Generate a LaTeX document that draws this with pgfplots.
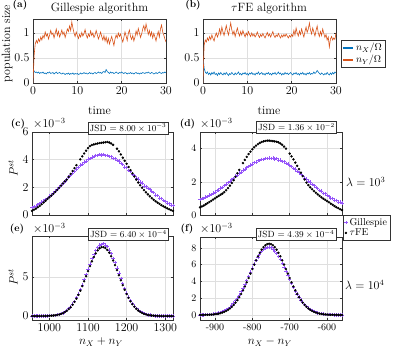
\documentclass[border=0pt]{standalone}
\usepackage{pgfplots}
\pgfplotsset{compat=1.18}
\definecolor{mblue}{rgb}{0,0.447,0.741}
\definecolor{morange}{rgb}{0.85,0.325,0.098}
\definecolor{gpurple}{RGB}{150,85,250}
\newcommand{\fsL}{\fontsize{12}{12}\selectfont}
\newcommand{\fsM}{\fontsize{10}{10}\selectfont}
\newcommand{\fsS}{\fontsize{9}{9}\selectfont}
\pgfplotsset{
  panel/.style={scale only axis, anchor=south west, enlargelimits=false,
    axis line style={black!80, line width=0.5pt},
    tick style={black!80, line width=0.5pt}, major tick length=2pt,
    tick align=inside, grid=major, grid style={gray!25, line width=0.4pt},
    tick label style={font=\fsL},
    /pgf/number format/1000 sep={}},
  ts/.style={panel, width=133pt, height=64pt, xmin=0, xmax=30, ymin=0, ymax=1.28,
    xtick={0,10,20,30}, ytick={0,0.5,1}},
  gil/.style={only marks, mark=+, mark size=1.7pt, gpurple, mark options={line width=0.6pt}},
  tfe/.style={only marks, mark=*, mark size=1.0pt, black},
  lineleg/.style={legend image code/.code={%
    \pgfsetstrokecolor{#1}\pgfsetlinewidth{1.8pt}%
    \pgfpathmoveto{\pgfpoint{0pt}{0pt}}\pgfpathlineto{\pgfpoint{10pt}{0pt}}%
    \pgfusepath{stroke}}},
}
\begin{document}
\begin{tikzpicture}
\useasboundingbox (0,0) rectangle (394pt,351pt);

% (a) Gillespie time series
\begin{axis}[ts, at={(33pt,268pt)}]
\addplot[draw=mblue, line width=0.6pt] coordinates {(0,0)(0.1,0.27)(0.25,0.24)(0.5,0.21)(0.75,0.22)(1,0.20)(1.25,0.22)(1.5,0.19)(1.75,0.21)(2,0.20)(2.25,0.22)(2.5,0.19)(2.75,0.20)(3,0.18)(3.25,0.21)(3.5,0.20)(3.75,0.22)(4,0.19)(4.25,0.20)(4.5,0.21)(4.75,0.18)(5,0.20)(5.25,0.22)(5.5,0.19)(5.75,0.20)(6,0.21)(6.25,0.19)(6.5,0.18)(6.75,0.20)(7,0.19)(7.25,0.17)(7.5,0.19)(7.75,0.18)(8,0.20)(8.25,0.17)(8.5,0.19)(8.75,0.18)(9,0.20)(9.25,0.17)(9.5,0.19)(9.75,0.18)(10,0.19)(10.25,0.17)(10.5,0.18)(10.75,0.20)(11,0.18)(11.25,0.19)(11.5,0.21)(11.75,0.19)(12,0.20)(12.25,0.18)(12.5,0.19)(12.75,0.21)(13,0.19)(13.25,0.20)(13.5,0.18)(13.75,0.20)(14,0.21)(14.25,0.19)(14.5,0.20)(14.75,0.22)(15,0.20)(15.25,0.21)(15.5,0.19)(15.75,0.22)(16,0.23)(16.25,0.21)(16.5,0.27)(16.75,0.23)(17,0.21)(17.25,0.19)(17.5,0.22)(17.75,0.20)(18,0.21)(18.25,0.19)(18.5,0.20)(18.75,0.22)(19,0.20)(19.25,0.19)(19.5,0.21)(19.75,0.20)(20,0.22)(20.25,0.20)(20.5,0.19)(20.75,0.21)(21,0.20)(21.25,0.18)(21.5,0.20)(21.75,0.19)(22,0.21)(22.25,0.19)(22.5,0.20)(22.75,0.18)(23,0.20)(23.25,0.21)(23.5,0.19)(23.75,0.20)(24,0.18)(24.25,0.20)(24.5,0.19)(24.75,0.21)(25,0.20)(25.25,0.19)(25.5,0.21)(25.75,0.20)(26,0.22)(26.25,0.20)(26.5,0.19)(26.75,0.21)(27,0.20)(27.25,0.18)(27.5,0.19)(27.75,0.21)(28,0.19)(28.25,0.20)(28.5,0.22)(28.75,0.20)(29,0.19)(29.25,0.21)(29.5,0.20)(29.75,0.22)(30,0.20)};
\addplot[draw=morange, line width=0.6pt] coordinates {(0,0)(0.25,0.55)(0.5,0.78)(0.75,0.85)(1,0.80)(1.25,0.88)(1.5,0.83)(1.75,0.92)(2,0.86)(2.25,0.95)(2.5,0.90)(2.75,1.02)(3,0.94)(3.25,0.98)(3.5,0.88)(3.75,0.96)(4,1.05)(4.25,0.97)(4.5,1.00)(4.75,0.90)(5,0.99)(5.25,1.08)(5.5,0.95)(5.75,1.03)(6,0.92)(6.25,0.98)(6.5,1.06)(6.75,0.97)(7,1.02)(7.25,0.91)(7.5,0.99)(7.75,1.08)(8,1.03)(8.25,1.14)(8.5,1.05)(8.75,1.22)(9,1.10)(9.25,1.00)(9.5,0.93)(9.75,1.02)(10,0.95)(10.25,0.89)(10.5,0.97)(10.75,0.92)(11,1.01)(11.25,0.94)(11.5,0.99)(11.75,1.07)(12,0.96)(12.25,0.90)(12.5,0.98)(12.75,0.93)(13,1.04)(13.25,0.95)(13.5,1.00)(13.75,0.91)(14,0.96)(14.25,1.05)(14.5,0.97)(14.75,0.88)(15,0.94)(15.25,1.02)(15.5,0.93)(15.75,0.86)(16,0.95)(16.25,0.84)(16.5,0.92)(16.75,0.80)(17,0.89)(17.25,0.78)(17.5,0.86)(17.75,0.93)(18,0.84)(18.25,0.75)(18.5,0.88)(18.75,0.96)(19,0.90)(19.25,1.00)(19.5,0.93)(19.75,0.98)(20,0.89)(20.25,0.82)(20.5,0.91)(20.75,1.02)(21,0.94)(21.25,0.85)(21.5,0.99)(21.75,1.06)(22,0.93)(22.25,0.87)(22.5,0.95)(22.75,0.84)(23,0.92)(23.25,1.04)(23.5,0.96)(23.75,1.09)(24,1.00)(24.25,0.91)(24.5,0.98)(24.75,1.08)(25,1.15)(25.25,1.04)(25.5,1.18)(25.75,1.08)(26,0.97)(26.25,1.05)(26.5,0.94)(26.75,1.02)(27,0.90)(27.25,0.99)(27.5,0.92)(27.75,0.84)(28,0.95)(28.25,1.03)(28.5,0.92)(28.75,1.08)(29,1.16)(29.25,1.02)(29.5,0.96)(29.75,0.88)(30,0.82)};
\end{axis}

% (b) tauFE time series
\begin{axis}[ts, at={(203pt,268pt)},
  legend style={at={(1.038,0.672)}, anchor=north west, draw=black!80, font=\fsM,
    inner sep=1pt, row sep=-1pt},
  legend cell align=left]
\addplot[draw=mblue, line width=0.6pt, lineleg=mblue] coordinates {(0,0)(0.1,0.45)(0.25,0.30)(0.5,0.22)(0.75,0.19)(1,0.22)(1.25,0.17)(1.5,0.20)(1.75,0.16)(2,0.21)(2.25,0.18)(2.5,0.22)(2.75,0.17)(3,0.19)(3.25,0.15)(3.5,0.20)(3.75,0.17)(4,0.21)(4.25,0.18)(4.5,0.16)(4.75,0.20)(5,0.17)(5.25,0.21)(5.5,0.18)(5.75,0.15)(6,0.19)(6.25,0.17)(6.5,0.21)(6.75,0.18)(7,0.16)(7.25,0.20)(7.5,0.17)(7.75,0.19)(8,0.22)(8.25,0.17)(8.5,0.19)(8.75,0.16)(9,0.20)(9.25,0.18)(9.5,0.21)(9.75,0.17)(10,0.19)(10.25,0.16)(10.5,0.20)(10.75,0.18)(11,0.21)(11.25,0.17)(11.5,0.19)(11.75,0.16)(12,0.20)(12.25,0.18)(12.5,0.22)(12.75,0.17)(13,0.19)(13.25,0.21)(13.5,0.17)(13.75,0.19)(14,0.16)(14.25,0.20)(14.5,0.18)(14.75,0.21)(15,0.17)(15.25,0.19)(15.5,0.16)(15.75,0.20)(16,0.18)(16.25,0.21)(16.5,0.17)(16.75,0.19)(17,0.22)(17.25,0.18)(17.5,0.20)(17.75,0.16)(18,0.19)(18.25,0.17)(18.5,0.21)(18.75,0.18)(19,0.20)(19.25,0.17)(19.5,0.19)(19.75,0.21)(20,0.18)(20.25,0.16)(20.5,0.20)(20.75,0.18)(21,0.21)(21.25,0.17)(21.5,0.19)(21.75,0.16)(22,0.20)(22.25,0.18)(22.5,0.21)(22.75,0.17)(23,0.19)(23.25,0.16)(23.5,0.20)(23.75,0.18)(24,0.21)(24.25,0.17)(24.5,0.19)(24.75,0.18)(25,0.22)(25.25,0.19)(25.5,0.21)(25.75,0.25)(26,0.22)(26.25,0.19)(26.5,0.17)(26.75,0.20)(27,0.18)(27.25,0.16)(27.5,0.19)(27.75,0.17)(28,0.21)(28.25,0.18)(28.5,0.16)(28.75,0.20)(29,0.17)(29.25,0.21)(29.5,0.18)(29.75,0.22)(30,0.20)};
\addlegendentry{$n_X/\Omega$}
\addplot[draw=morange, line width=0.6pt, lineleg=morange] coordinates {(0,0)(0.25,0.75)(0.5,0.86)(0.75,0.82)(1,0.90)(1.25,0.85)(1.5,0.93)(1.75,0.87)(2,0.96)(2.25,0.89)(2.5,0.84)(2.75,0.94)(3,1.00)(3.25,0.92)(3.5,0.98)(3.75,1.08)(4,0.97)(4.25,1.12)(4.5,1.02)(4.75,0.95)(5,1.05)(5.25,1.15)(5.5,1.04)(5.75,0.96)(6,1.08)(6.25,1.20)(6.5,1.06)(6.75,0.97)(7,1.04)(7.25,0.93)(7.5,1.02)(7.75,1.10)(8,1.00)(8.25,0.94)(8.5,1.03)(8.75,0.96)(9,1.05)(9.25,0.98)(9.5,0.92)(9.75,1.00)(10,0.95)(10.25,1.03)(10.5,0.97)(10.75,0.93)(11,1.00)(11.25,0.94)(11.5,0.98)(11.75,0.92)(12,0.96)(12.25,1.02)(12.5,0.95)(12.75,0.91)(13,0.97)(13.25,0.93)(13.5,0.99)(13.75,0.94)(14,0.90)(14.25,0.96)(14.5,1.01)(14.75,0.94)(15,0.98)(15.25,0.92)(15.5,0.97)(15.75,1.03)(16,0.95)(16.25,0.91)(16.5,0.96)(16.75,0.93)(17,0.99)(17.25,0.94)(17.5,0.90)(17.75,0.96)(18,0.92)(18.25,0.97)(18.5,0.93)(18.75,0.98)(19,0.94)(19.25,0.90)(19.5,0.95)(19.75,0.92)(20,0.97)(20.25,0.93)(20.5,1.05)(20.75,0.96)(21,1.10)(21.25,1.00)(21.5,0.94)(21.75,1.04)(22,0.97)(22.25,1.08)(22.5,0.99)(22.75,0.92)(23,1.03)(23.25,1.12)(23.5,1.01)(23.75,1.08)(24,1.20)(24.25,1.06)(24.5,0.98)(24.75,1.10)(25,1.02)(25.25,0.94)(25.5,1.05)(25.75,1.14)(26,1.00)(26.25,0.93)(26.5,1.03)(26.75,0.95)(27,1.08)(27.25,0.99)(27.5,0.91)(27.75,0.97)(28,0.86)(28.25,0.92)(28.5,0.72)(28.75,0.88)(29,0.93)(29.25,0.86)(29.5,0.90)(29.75,0.87)(30,1.00)};
\addlegendentry{$n_Y/\Omega$}
\end{axis}

% (c) lambda = 10^3, n_X + n_Y
\begin{axis}[panel, at={(32pt,136pt)}, width=141pt, height=83pt,
  xmin=955, xmax=1320, ymin=0, ymax=6, xtick={1000,1100,1200,1300}, xticklabels={},
  ytick={0,2,4,6}]
\addplot[gil] coordinates {(955,0.54)(960,0.61)(965,0.66)(970,0.76)(975,0.82)(980,0.94)(985,1.01)(990,1.13)(995,1.21)(1000,1.36)(1005,1.44)(1010,1.60)(1015,1.70)(1020,1.87)(1025,1.97)(1030,2.15)(1035,2.26)(1040,2.44)(1045,2.56)(1050,2.75)(1055,2.86)(1060,3.05)(1065,3.15)(1070,3.33)(1075,3.43)(1080,3.60)(1085,3.68)(1090,3.84)(1095,3.90)(1100,4.04)(1105,4.08)(1110,4.20)(1115,4.22)(1120,4.31)(1125,4.28)(1130,4.37)(1135,4.33)(1140,4.38)(1145,4.30)(1150,4.32)(1155,4.23)(1160,4.22)(1165,4.10)(1170,4.08)(1175,3.93)(1180,3.89)(1185,3.72)(1190,3.67)(1195,3.48)(1200,3.42)(1205,3.23)(1210,3.15)(1215,2.95)(1220,2.87)(1225,2.67)(1230,2.59)(1235,2.38)(1240,2.31)(1245,2.11)(1250,2.08)(1255,1.93)(1260,1.85)(1265,1.68)(1270,1.61)(1275,1.45)(1280,1.39)(1285,1.23)(1290,1.18)(1295,1.03)(1300,0.99)(1305,0.87)(1310,0.83)(1315,0.72)(1320,0.69)};
\addplot[tfe] coordinates {(955,0.30)(960,0.38)(965,0.46)(970,0.56)(975,0.66)(980,0.78)(985,0.90)(990,1.03)(995,1.16)(1000,1.28)(1005,1.40)(1010,1.53)(1015,1.67)(1020,1.81)(1025,1.96)(1030,2.12)(1035,2.28)(1040,2.43)(1045,2.56)(1050,2.76)(1055,2.97)(1060,3.18)(1065,3.39)(1070,3.60)(1080,4.02)(1085,4.24)(1090,4.45)(1095,4.65)(1100,4.84)(1105,4.98)(1110,5.06)(1115,5.10)(1120,5.14)(1125,5.17)(1130,5.20)(1135,5.22)(1140,5.24)(1145,5.26)(1150,5.28)(1155,5.24)(1160,5.17)(1165,5.07)(1175,4.79)(1180,4.60)(1185,4.38)(1190,4.14)(1195,3.92)(1200,3.70)(1205,3.47)(1210,3.24)(1215,3.01)(1220,2.78)(1225,2.56)(1230,2.35)(1235,2.15)(1240,1.97)(1245,1.80)(1250,1.64)(1255,1.49)(1260,1.35)(1265,1.22)(1270,1.10)(1275,0.99)(1280,0.89)(1285,0.80)(1290,0.71)(1295,0.63)(1300,0.56)(1305,0.48)(1310,0.41)(1315,0.35)(1320,0.30)};
\end{axis}

% (d) lambda = 10^3, n_X - n_Y
\begin{axis}[panel, at={(200pt,136pt)}, width=142pt, height=83pt,
  tick label style={font=\fsM},
  xmin=-940, xmax=-560, ymin=0, ymax=5, xtick={-900,-800,-700,-600}, xticklabels={},
  ytick={0,2,4},
  legend style={at={(1.007,0)}, anchor=north west, draw=black!80, font=\fsM,
    inner sep=1pt, row sep=-2pt},
  legend cell align=left]
\addplot[gil] coordinates {(-940,0.93)(-935,0.99)(-930,1.00)(-925,1.09)(-920,1.11)(-915,1.21)(-910,1.23)(-905,1.33)(-900,1.36)(-895,1.47)(-890,1.51)(-885,1.63)(-880,1.67)(-875,1.79)(-870,1.84)(-865,1.97)(-860,2.02)(-855,2.15)(-850,2.20)(-845,2.34)(-840,2.39)(-835,2.52)(-830,2.57)(-825,2.70)(-820,2.74)(-815,2.87)(-810,2.91)(-805,3.02)(-800,3.05)(-795,3.16)(-790,3.18)(-785,3.27)(-780,3.28)(-775,3.36)(-770,3.35)(-765,3.41)(-760,3.39)(-755,3.44)(-750,3.40)(-745,3.43)(-740,3.38)(-735,3.39)(-730,3.32)(-725,3.32)(-720,3.23)(-715,3.21)(-710,3.11)(-705,3.08)(-700,2.97)(-695,2.93)(-690,2.81)(-685,2.76)(-680,2.63)(-675,2.57)(-670,2.44)(-665,2.38)(-660,2.24)(-655,2.18)(-650,2.04)(-645,1.98)(-640,1.85)(-635,1.79)(-630,1.66)(-625,1.61)(-620,1.48)(-615,1.44)(-610,1.31)(-605,1.28)(-600,1.16)(-595,1.13)(-590,1.02)(-585,1.00)(-580,0.90)(-575,0.89)(-570,0.79)(-565,0.79)(-560,0.72)};
\addlegendentry{Gillespie}
\addplot[tfe] coordinates {(-940,0.46)(-935,0.51)(-930,0.57)(-925,0.64)(-920,0.71)(-915,0.78)(-910,0.85)(-905,0.93)(-900,1.00)(-895,1.08)(-890,1.15)(-885,1.22)(-880,1.29)(-875,1.38)(-870,1.49)(-865,1.62)(-860,1.77)(-855,1.93)(-850,2.10)(-845,2.30)(-840,2.51)(-835,2.72)(-825,3.13)(-820,3.32)(-815,3.50)(-810,3.67)(-805,3.82)(-800,3.96)(-795,4.08)(-790,4.18)(-785,4.27)(-780,4.34)(-775,4.40)(-770,4.44)(-765,4.46)(-760,4.48)(-755,4.48)(-750,4.47)(-745,4.45)(-740,4.43)(-735,4.41)(-730,4.38)(-725,4.31)(-720,4.23)(-715,4.12)(-710,4.00)(-700,3.70)(-695,3.53)(-690,3.35)(-685,3.16)(-680,2.96)(-675,2.76)(-670,2.55)(-665,2.34)(-660,2.14)(-655,1.95)(-650,1.80)(-645,1.67)(-640,1.55)(-635,1.44)(-630,1.34)(-625,1.24)(-620,1.15)(-615,1.06)(-610,0.98)(-605,0.91)(-600,0.84)(-595,0.77)(-590,0.68)(-585,0.61)(-580,0.54)(-575,0.47)(-570,0.41)(-565,0.35)(-560,0.30)};
\addlegendentry{$\tau$FE}
\end{axis}

% (e) lambda = 10^4, n_X + n_Y
\begin{axis}[panel, at={(32pt,31pt)}, width=141pt, height=84pt,
  xmin=955, xmax=1320, ymin=-0.5, ymax=10.2, xtick={1000,1100,1200,1300},
  ytick={0,5}]
\addplot[gil] coordinates {(955,0.02)(960,0)(965,0.01)(970,0.02)(975,0.01)(980,0.02)(985,0.01)(990,0.03)(995,0.02)(1000,0.05)(1005,0.04)(1010,0.09)(1015,0.09)(1020,0.17)(1025,0.19)(1030,0.31)(1035,0.37)(1040,0.56)(1045,0.68)(1050,0.95)(1055,1.16)(1060,1.53)(1065,1.86)(1070,2.34)(1075,2.79)(1080,3.41)(1085,3.96)(1090,4.66)(1095,5.28)(1100,6.02)(1105,6.62)(1110,7.30)(1115,7.83)(1120,8.38)(1125,8.71)(1130,9.05)(1135,9.14)(1140,9.21)(1145,9.03)(1150,8.84)(1155,8.40)(1160,8.00)(1165,7.37)(1170,6.82)(1175,6.10)(1180,5.47)(1185,4.75)(1190,4.14)(1195,3.48)(1200,2.95)(1205,2.41)(1210,1.98)(1215,1.57)(1220,1.26)(1225,0.96)(1230,0.76)(1235,0.55)(1240,0.43)(1245,0.30)(1250,0.23)(1255,0.16)(1260,0.12)(1265,0.08)(1270,0.06)(1275,0.03)(1280,0.03)(1285,0.01)(1290,0.02)(1295,0)(1300,0.01)(1305,0)(1310,0.01)(1315,0)(1320,0)};
\addplot[tfe] coordinates {(955,0)(960,0)(965,0)(970,0)(975,0)(980,0.01)(985,0.01)(990,0.01)(995,0.02)(1000,0.03)(1005,0.05)(1010,0.07)(1015,0.10)(1020,0.14)(1025,0.20)(1030,0.27)(1035,0.37)(1040,0.51)(1045,0.67)(1050,0.88)(1055,1.13)(1060,1.44)(1065,1.80)(1070,2.22)(1075,2.70)(1080,3.23)(1085,3.82)(1090,4.43)(1095,5.08)(1100,5.73)(1105,6.36)(1110,6.97)(1115,7.52)(1120,7.99)(1125,8.37)(1130,8.63)(1135,8.78)(1140,8.79)(1145,8.67)(1150,8.43)(1155,8.07)(1160,7.62)(1165,7.08)(1170,6.49)(1175,5.86)(1180,5.21)(1185,4.56)(1190,3.94)(1195,3.35)(1200,2.80)(1205,2.32)(1210,1.88)(1215,1.51)(1220,1.19)(1225,0.93)(1230,0.71)(1235,0.54)(1240,0.40)(1245,0.29)(1250,0.21)(1255,0.15)(1260,0.11)(1265,0.07)(1270,0.05)(1275,0.03)(1280,0.02)(1285,0.01)(1290,0.01)(1295,0)(1300,0)(1305,0)(1310,0)(1315,0)(1320,0)};
\end{axis}

% (f) lambda = 10^4, n_X - n_Y
\begin{axis}[panel, at={(200pt,31pt)}, width=142pt, height=83pt,
  tick label style={font=\fsM},
  xmin=-940, xmax=-560, ymin=-0.6, ymax=9.3, xtick={-900,-800,-700,-600},
  xticklabels={-900,-800,-700,-600}, ytick={0,2,4,6,8}]
\addplot[gil] coordinates {(-940,0.01)(-935,0.02)(-930,0.02)(-925,0.03)(-920,0.04)(-915,0.05)(-910,0.07)(-905,0.10)(-900,0.14)(-895,0.18)(-890,0.24)(-885,0.31)(-880,0.40)(-875,0.50)(-870,0.63)(-865,0.79)(-860,0.97)(-855,1.18)(-850,1.43)(-845,1.72)(-840,2.04)(-835,2.40)(-830,2.79)(-825,3.21)(-820,3.66)(-815,4.13)(-810,4.62)(-805,5.11)(-800,5.60)(-795,6.07)(-790,6.51)(-785,6.92)(-780,7.29)(-775,7.59)(-770,7.83)(-765,7.99)(-760,8.08)(-755,8.09)(-750,8.02)(-745,7.87)(-740,7.65)(-735,7.35)(-730,7.00)(-725,6.60)(-720,6.16)(-715,5.69)(-710,5.21)(-705,4.71)(-700,4.23)(-695,3.75)(-690,3.29)(-685,2.87)(-680,2.48)(-675,2.12)(-670,1.78)(-665,1.49)(-660,1.23)(-655,1.01)(-650,0.82)(-645,0.66)(-640,0.53)(-635,0.42)(-630,0.33)(-625,0.25)(-620,0.19)(-615,0.15)(-610,0.11)(-605,0.08)(-600,0.06)(-595,0.04)(-590,0.03)(-585,0.03)(-580,0.02)(-575,0.01)(-570,0.01)(-565,0.01)(-560,0.01)};
\addplot[tfe] coordinates {(-940,0)(-935,0.01)(-930,0.01)(-925,0.02)(-920,0.02)(-915,0.03)(-910,0.05)(-905,0.06)(-900,0.09)(-895,0.12)(-890,0.16)(-885,0.22)(-880,0.29)(-875,0.37)(-870,0.48)(-865,0.62)(-860,0.78)(-855,0.97)(-850,1.20)(-845,1.47)(-840,1.77)(-835,2.12)(-830,2.51)(-825,2.94)(-820,3.40)(-815,3.89)(-810,4.41)(-805,4.94)(-800,5.48)(-795,6.01)(-790,6.51)(-785,6.99)(-780,7.42)(-775,7.79)(-770,8.10)(-765,8.32)(-760,8.45)(-755,8.50)(-750,8.45)(-745,8.32)(-740,8.10)(-735,7.79)(-730,7.42)(-725,6.99)(-720,6.51)(-715,6.01)(-710,5.48)(-705,4.94)(-700,4.41)(-695,3.89)(-690,3.40)(-685,2.94)(-680,2.51)(-675,2.12)(-670,1.77)(-665,1.47)(-660,1.20)(-655,0.97)(-650,0.78)(-645,0.62)(-640,0.48)(-635,0.37)(-630,0.29)(-625,0.22)(-620,0.16)(-615,0.12)(-610,0.09)(-605,0.06)(-600,0.05)(-595,0.03)(-590,0.02)(-585,0.02)(-580,0.01)(-575,0.01)(-570,0)(-565,0)(-560,0)};
\end{axis}

% texts
\node[font=\fsM\bfseries] at (20pt,346pt) {(a)};
\node[font=\fsM\bfseries] at (193pt,346pt) {(b)};
\node[font=\fsL, anchor=base] at (99.5pt,339pt) {Gillespie algorithm};
\node[font=\fsL, anchor=base] at (269pt,339pt) {$\tau$FE algorithm};
\node[font=\fsL, anchor=base] at (99.5pt,236.5pt) {time};
\node[font=\fsL, anchor=base] at (269pt,236.5pt) {time};
\node[font=\fsL, rotate=90] at (7pt,307.5pt) {population size};

\node[font=\fsM\bfseries] at (18pt,227.5pt) {(c)};
\node[font=\fsM\bfseries] at (187.5pt,227.5pt) {(d)};
\node[font=\fsM\bfseries] at (17pt,122.5pt) {(e)};
\node[font=\fsM\bfseries] at (187pt,122.5pt) {(f)};
\node[font=\fsL, anchor=west, inner sep=0pt] at (33pt,227.5pt) {$\times10^{-3}$};
\node[font=\fsL, anchor=west, inner sep=0pt] at (200pt,227.5pt) {$\times10^{-3}$};
\node[font=\fsL, anchor=west, inner sep=0pt] at (33pt,122.5pt) {$\times10^{-3}$};
\node[font=\fsL, anchor=west, inner sep=0pt] at (200pt,122.5pt) {$\times10^{-3}$};

\node[font=\fsL, rotate=90] at (13pt,182.5pt) {$P^{st}$};
\node[font=\fsL, rotate=90] at (13pt,74pt) {$P^{st}$};
\node[font=\fsL] at (101pt,9pt) {$n_X+n_Y$};
\node[font=\fsL] at (270pt,9pt) {$n_X-n_Y$};

\node[font=\fsL, anchor=west, inner sep=0pt] at (346pt,169pt) {$\lambda=10^3$};
\node[font=\fsL, anchor=west, inner sep=0pt] at (345pt,66pt) {$\lambda=10^4$};

\node[draw=black!80, fill=white, inner sep=1.5pt, line width=0.5pt, font=\fsS] at (128pt,223pt) {JSD $=8.00\times10^{-3}$};
\node[draw=black!80, fill=white, inner sep=1.5pt, line width=0.5pt, font=\fsS] at (296.5pt,223.5pt) {JSD $=1.36\times10^{-2}$};
\node[draw=black!80, fill=white, inner sep=1.5pt, line width=0.5pt, font=\fsS] at (128.5pt,116.5pt) {JSD $=6.40\times10^{-4}$};
\node[draw=black!80, fill=white, inner sep=1.5pt, line width=0.5pt, font=\fsS] at (296pt,116.5pt) {JSD $=4.39\times10^{-4}$};
\end{tikzpicture}
\end{document}
